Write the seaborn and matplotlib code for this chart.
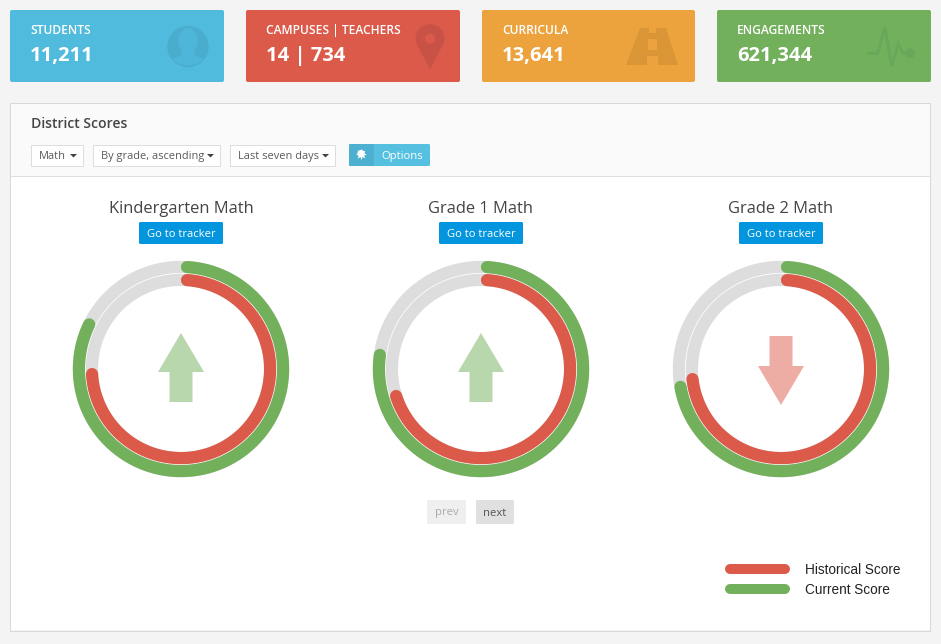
import matplotlib
matplotlib.use("Agg")
import matplotlib.pyplot as plt
import numpy as np
import pandas as pd
import seaborn as sns
from matplotlib.patches import Circle, Ellipse, FancyBboxPatch, Polygon, Rectangle

# tiles
tile_labels = ["STUDENTS", "CAMPUSES | TEACHERS", "CURRICULA", "ENGAGEMENTS"]
tile_values = ["11,211", "14 | 734", "13,641", "621,344"]

# rings
grades = ["Kindergarten Math", "Grade 1 Math", "Grade 2 Math"]
historical = [74.1, 70.1, 73.2]
current = [82.2, 77.2, 72.2]
trend = ["up", "up", "down"]

RED = "#DC5A4A"
GREEN = "#72B05C"
TRACK = "#DDDDDD"
W, H = 941, 644

sns.set_theme(style="white")
plt.rcParams["font.family"] = ["Open Sans", "DejaVu Sans"]
plt.rcParams["patch.linewidth"] = 0

fig = plt.figure(figsize=(W / 100, H / 100), dpi=100, facecolor="#F4F4F4")
bg = fig.add_axes([0, 0, 1, 1])
bg.set_xlim(0, W)
bg.set_ylim(H, 0)
bg.axis("off")


def box(x0, y0, x1, y1, color, edge="none", lw=0, r=2):
    bg.add_patch(FancyBboxPatch((x0 + r, y0 + r), x1 - x0 - 2 * r, y1 - y0 - 2 * r,
                                boxstyle=f"round,pad={r},rounding_size={r}",
                                fc=color, ec=edge, lw=lw))


def label(x, y, s, px, color="#555555", ha="left", **kw):
    bg.text(x, y + 1, s, fontsize=px * 0.72, color=color, ha=ha, va="center", **kw)


# top tiles
tile_x = [(10, 224), (246, 460), (482, 695), (717, 931)]
tile_colors = ["#50BBDD", RED, "#ECA33D", GREEN]
for (x0, x1), col, name, val in zip(tile_x, tile_colors, tile_labels, tile_values):
    box(x0, 10, x1, 82, col)
    label(x0 + 20, 29, name, 12, "white", fontweight="semibold")
    label(x0 + 20, 54.5, val, 20.2, "white", fontweight="bold")

# user icon
bg.add_patch(Circle((188, 46.5), 20.7, fc="#4AADCE"))
bg.add_patch(Ellipse((188, 41), 19, 26, fc="#4EB6D8"))
bg.add_patch(Polygon([(182, 50), (194, 50), (195, 55), (203.5, 59.5), (197, 64), (188, 65.5), (179, 64), (172.5, 59.5), (181, 55)],
                     fc="#4EB6D8"))

# pin icon
bg.add_patch(Circle((430, 38.5), 14.4, fc="#C85245"))
bg.add_patch(Polygon([(416.3, 43), (443.7, 43), (430, 69.5)], fc="#C85245"))
bg.add_patch(Circle((430, 38.7), 5, fc=RED))

# road icon
bg.add_patch(Polygon([(640, 28), (666, 28), (678, 65), (626, 65)], fc="#D99536"))
bg.add_patch(Rectangle((649, 28), 7, 5, fc="#ECA33D"))
bg.add_patch(Rectangle((648, 39), 9, 11, fc="#ECA33D"))
bg.add_patch(Rectangle((647, 56), 11, 9, fc="#ECA33D"))

# pulse icon
bg.plot([867.5, 877.5, 885, 891.7, 898.3, 902.7, 910], [53.3, 53.3, 27, 66.5, 43.5, 53.3, 53.3],
        color="#69A85A", lw=2.1, solid_joinstyle="miter")
bg.add_patch(Circle((910, 53.3), 5, fc="#69A85A"))

# panel
bg.add_patch(Rectangle((11.5, 103.5), 918.5, 72, fc="#FAFAFA"))
bg.add_patch(Rectangle((11.5, 175.5), 918.5, 454.5, fc="white"))
bg.add_patch(Rectangle((10.5, 102.5), 920, 528, fc="none", ec="#D8D8D8", lw=0.72))
bg.plot([11, 930], [175.5, 175.5], color="#DEDEDE", lw=0.72)
label(31, 122.5, "District Scores", 14, "#444444", fontweight="semibold")

# filter dropdowns
dropdowns = [(31, 84, "Math"), (93, 221, "By grade, ascending"), (230, 336, "Last seven days")]
for x0, x1, s in dropdowns:
    bg.add_patch(Rectangle((x0 + 0.5, 144.5), x1 - x0 - 1, 21, fc="white", ec="#DDDDDD", lw=0.72))
    label(x0 + 8, 155, s, 11, "#5A5A5A")
    bg.add_patch(Polygon([(x1 - 14, 154), (x1 - 7, 154), (x1 - 10.5, 157.5)], fc="#444444"))

box(349, 144, 430, 166, "#55C0E0", r=1.5)
box(349, 144, 374, 166, "#4DB0D1", r=1.5)
bg.plot([361], [153.5], marker=(8, 1, 0), ms=8, color="white", mew=0)
bg.add_patch(Circle((361, 153.5), 3.6, fc="white"))
bg.add_patch(Circle((361, 153.5), 1.4, fc="#4DB0D1"))
label(381, 155, "Options", 11.2, "white")

# rings
centers = [181, 481, 781]
for cx, name, hist, cur, way in zip(centers, grades, historical, current, trend):
    label(cx, 208, name, 16.5, "#444444", ha="center")
    box(cx - 42, 222, cx + 42, 244, "#0395DD", r=1.5)
    label(cx, 233.5, "Go to tracker", 11.2, "white", ha="center")

    color = GREEN if way == "up" else RED
    s = 1 if way == "up" else -1
    tip = 333 if way == "up" else 405
    neck = tip + 39 * s
    tail = tip + 69 * s
    bg.add_patch(Polygon([(cx, tip), (cx + 23, neck), (cx + 11.5, neck), (cx + 11.5, tail),
                          (cx - 11.5, tail), (cx - 11.5, neck), (cx - 23, neck)],
                         fc=color, alpha=0.5, ec="none"))

    # polar axes sized so that one radial unit is one pixel
    rmax = 120
    ax = fig.add_axes([(cx - rmax) / W, 1 - (369 + rmax) / H, 2 * rmax / W, 2 * rmax / H], polar=True)
    ax.set_theta_zero_location("N")
    ax.set_theta_direction(-1)
    ax.patch.set_alpha(0)
    ring_pt = 12.2 * 0.72
    full = np.radians(np.linspace(0, 360, 361))
    for r, score, col in [(102.1, cur, GREEN), (89.1, hist, RED)]:
        track = pd.DataFrame({"theta": full, "r": r})
        sns.lineplot(data=track, x="theta", y="r", ax=ax, sort=False, estimator=None,
                     color=TRACK, linewidth=ring_pt, solid_capstyle="butt")
        # arcs start just past twelve o'clock so the round cap begins at the top
        start = np.degrees(6 / r)
        arc = pd.DataFrame({"theta": np.radians(np.linspace(start, score * 3.6, 300)), "r": r})
        sns.lineplot(data=arc, x="theta", y="r", ax=ax, sort=False, estimator=None,
                     color=col, linewidth=ring_pt, solid_capstyle="round")
    ax.set_ylim(0, rmax)
    ax.set_xlabel("")
    ax.set_ylabel("")
    ax.set_xticks([])
    ax.set_yticks([])
    ax.grid(False)
    ax.spines["polar"].set_visible(False)

# pager
box(427, 500, 466, 524, "#EFEFEF", r=1.5)
label(446.5, 512, "prev", 11.2, "#ABABAB", ha="center")
box(476, 500, 514, 524, "#E0E0E0", r=1.5)
label(495, 512, "next", 11.2, "#555555", ha="center")

# legend
for y, col, s in [(569, RED, "Historical Score"), (589, GREEN, "Current Score")]:
    bg.plot([730, 785], [y, y], color=col, lw=10 * 0.72, solid_capstyle="round")
    label(805, y - 0.5, s, 13.6, "#222222", family=["Liberation Sans"])

fig.savefig("out.png", dpi=100, facecolor=fig.get_facecolor())
